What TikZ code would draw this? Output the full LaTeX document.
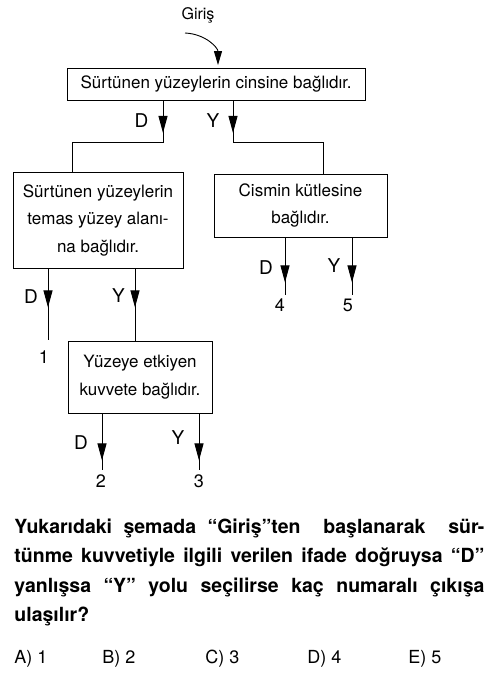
\documentclass[tikz,border=0pt]{standalone}
\usepackage{fontspec}
\setmainfont{TeX Gyre Heros}
\usetikzlibrary{arrows.meta}
\usetikzlibrary{decorations.markings}
\newcommand{\boxfont}{\fontsize{17}{27.5}\selectfont}
\newcommand{\qfont}{\fontsize{19.5}{29.5}\selectfont}
\tikzset{
  box/.style={draw,inner sep=0pt,align=center,font=\boxfont},
  lbl/.style={inner sep=0pt,font=\fontsize{19}{21}\selectfont},
  num/.style={inner sep=0pt,font=\fontsize{18}{20}\selectfont},
  tipat/.style={postaction={decorate},
    decoration={markings,mark=at position #1 with {\arrow{Triangle[length=17pt,width=9pt]}}}}
}

\begin{document}
\begin{tikzpicture}[x=1pt,y=-1pt,line width=0.9pt]
  \useasboundingbox (0,0) rectangle (492,675);
  % boxes
  \node[box,minimum width=298pt,minimum height=32pt] (s1) at (216,84.5) {Sürtünen yüzeylerin cinsine bağlıdır.};
  \node[box,minimum width=170pt,minimum height=96pt] (s2) at (98,220) {Sürtünen yüzeylerin\\temas yüzey alanı-\\na bağlıdır.};
  \node[box,minimum width=173pt,minimum height=63pt] (s3) at (300.5,205.5) {Cismin kütlesine\\bağlıdır.};
  \node[box,minimum width=144pt,minimum height=72pt] (s4) at (140,377) {Yüzeye etkiyen\\kuvvete bağlıdır.};
  % entry
  \node[inner sep=0pt,font=\fontsize{16}{18}\selectfont] (in) at (198,15.5) {Giriş};
  \coordinate (c0) at (185,33);
  \draw[-{Triangle[length=14pt,width=8pt]},shorten >=3pt] (c0) .. controls (206,34) and (218,48) .. ([xshift=2pt]s1.north);
  % first split
  \draw[tipat=32pt] ([xshift=-53pt]s1.south) -- ++(0,41) -| ([xshift=-26pt]s2.north);
  \draw[tipat=32pt] ([xshift=17pt]s1.south) -- ++(0,41) -| ([xshift=22.5pt]s3.north);
  \node[lbl] (d1) at (141.5,121) {D};
  \node[lbl] (y1) at (213,121) {Y};
  % exits
  \coordinate (o1) at (48,340);
  \coordinate (o2) at (102,470);
  \coordinate (o3) at (199,470);
  \coordinate (o4) at (285,295);
  \coordinate (o5) at (352,295);
  \draw[tipat=39pt] ([xshift=-50pt]s2.south) -- (o1);
  \draw[tipat=39pt] ([xshift=37pt]s2.south) -- ([xshift=-5pt]s4.north);
  \draw[tipat=45pt] ([xshift=-15.5pt]s3.south) -- (o4);
  \draw[tipat=45pt] ([xshift=51.5pt]s3.south) -- (o5);
  \draw[tipat=47pt] ([xshift=-38pt]s4.south) -- (o2);
  \draw[tipat=47pt] ([xshift=59pt]s4.south) -- (o3);
  \node[lbl] (d2) at (31,297) {D};
  \node[lbl] (y2) at (118.5,296) {Y};
  \node[lbl] (d3) at (266,268) {D};
  \node[lbl] (y3) at (334,266) {Y};
  \node[lbl] (d4) at (81,443) {D};
  \node[lbl] (y4) at (178,438) {Y};
  \node[num] (n1) at (44,357) {1};
  \node[num] (n2) at (101,481) {2};
  \node[num] (n3) at (199,481) {3};
  \node[num] (n4) at (280,305) {4};
  \node[num] (n5) at (348,305) {5};
  % question
  \node[anchor=base west,inner sep=0pt,text width=470pt,align=justify,font=\qfont\bfseries] (q) at (14,533)
    {Yukarıdaki şemada “Giriş”ten\ \ başlanarak\ \ sür-\linebreak
     tünme kuvvetiyle ilgili verilen ifade doğruysa “D”\linebreak
     yanlışsa “Y” yolu seçilirse kaç numaralı çıkışa\linebreak
     ulaşılır?};
  \node[num,anchor=base west] (a) at (14,663) {A) 1};
  \node[num,anchor=base west] (b) at (102,663) {B) 2};
  \node[num,anchor=base west] (c) at (205,663) {C) 3};
  \node[num,anchor=base west] (d) at (307,663) {D) 4};
  \node[num,anchor=base west] (e) at (408,663) {E) 5};
\end{tikzpicture}
\end{document}
